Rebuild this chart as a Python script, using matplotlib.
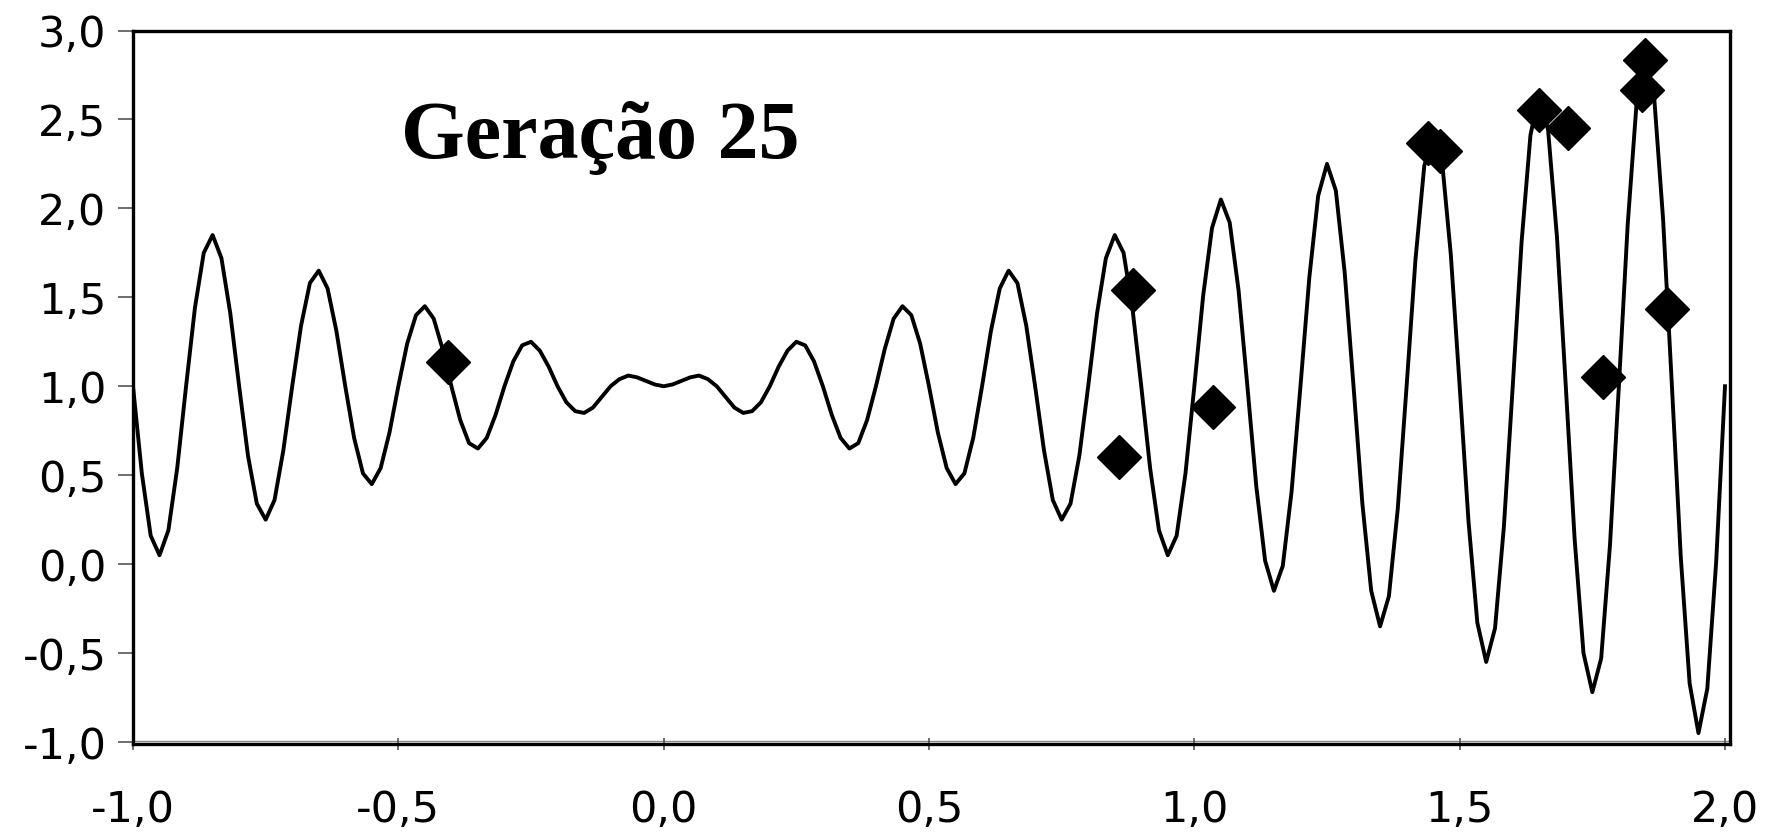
import matplotlib.pyplot as plt
from matplotlib.ticker import FuncFormatter

# curve, 12 samples per oscillation, x from -1,0 to 2,0
x_start, x_step = -1.0, 1 / 60
curve_y = [
    1.00, 0.51, 0.16, 0.05, 0.19, 0.54, 1.00, 1.44, 1.75, 1.85, 1.72, 1.41,
    1.00, 0.61, 0.34, 0.25, 0.36, 0.64, 1.00, 1.34, 1.58, 1.65, 1.55, 1.31,
    1.00, 0.71, 0.51, 0.45, 0.54, 0.74, 1.00, 1.24, 1.40, 1.45, 1.38, 1.21,
    1.00, 0.81, 0.68, 0.65, 0.71, 0.84, 1.00, 1.14, 1.23, 1.25, 1.20, 1.11,
    1.00, 0.91, 0.86, 0.85, 0.88, 0.94, 1.00, 1.04, 1.06, 1.05, 1.03, 1.01,
    1.00, 1.01, 1.03, 1.05, 1.06, 1.04, 1.00, 0.94, 0.88, 0.85, 0.86, 0.91,
    1.00, 1.11, 1.20, 1.25, 1.23, 1.14, 1.00, 0.84, 0.71, 0.65, 0.68, 0.81,
    1.00, 1.21, 1.38, 1.45, 1.40, 1.24, 1.00, 0.74, 0.54, 0.45, 0.51, 0.71,
    1.00, 1.31, 1.55, 1.65, 1.58, 1.34, 1.00, 0.64, 0.36, 0.25, 0.34, 0.61,
    1.00, 1.41, 1.72, 1.85, 1.75, 1.44, 1.00, 0.54, 0.19, 0.05, 0.16, 0.51,
    1.00, 1.51, 1.89, 2.05, 1.92, 1.54, 1.00, 0.44, 0.02, -0.15, -0.01, 0.41,
    1.00, 1.61, 2.07, 2.25, 2.10, 1.64, 1.00, 0.34, -0.15, -0.35, -0.18, 0.31,
    1.00, 1.71, 2.24, 2.40, 2.27, 1.74, 1.00, 0.24, -0.33, -0.55, -0.36, 0.21,
    1.00, 1.81, 2.41, 2.65, 2.44, 1.84, 1.00, 0.14, -0.50, -0.72, -0.53, 0.11,
    1.00, 1.91, 2.59, 2.68, 2.62, 1.94, 1.00, 0.04, -0.67, -0.95, -0.70, 0.01,
    1.00,
]
curve_x = [x_start + i * x_step for i in range(len(curve_y))]

# population of generation 25 (diamonds)
pop_x = [-0.407, 0.858, 0.884, 1.036, 1.440, 1.463, 1.649, 1.705, 1.771, 1.843, 1.850, 1.890]
pop_y = [1.135, 0.604, 1.541, 0.882, 2.366, 2.324, 2.553, 2.450, 1.054, 2.666, 2.834, 1.433]

title = "Geração 25"
x_ticks = [-1.0, -0.5, 0.0, 0.5, 1.0, 1.5, 2.0]
y_ticks = [-1.0, -0.5, 0.0, 0.5, 1.0, 1.5, 2.0, 2.5, 3.0]

W, H = 1771, 834
fig = plt.figure(figsize=(W / 100, H / 100), dpi=100)
ax = fig.add_axes([133 / W, 1 - 743.8 / H, (1730.3 - 133) / W, (743.8 - 30.5) / H])

ax.plot(curve_x, curve_y, color="black", lw=2.8, zorder=2)
ax.plot(pop_x, pop_y, linestyle="none", marker="D", color="black", ms=22, zorder=3)

ax.set_xlim(-1.0, 2.01)
ax.set_ylim(-1.01, 3.0)
ax.set_xticks(x_ticks)
ax.set_yticks(y_ticks)
comma = FuncFormatter(lambda v, p: f"{v:.1f}".replace(".", ","))
ax.xaxis.set_major_formatter(comma)
ax.yaxis.set_major_formatter(comma)

ax.tick_params(axis="y", direction="out", length=11, width=1.2, color="#555555",
               labelsize=31, pad=8)
ax.tick_params(axis="x", direction="inout", length=9, width=1.2, color="#555555",
               labelsize=31, pad=28)

for side in ["left", "top", "right", "bottom"]:
    ax.spines[side].set_linewidth(2.4)
    ax.spines[side].set_color("black")
ax.axhline(-0.995, color="#888888", lw=1.0, zorder=1)

ax.text(0.168, 0.821, title, transform=ax.transAxes, fontsize=59, fontweight="bold",
        family="Liberation Serif", va="baseline", ha="left")

fig.savefig("out.png", dpi=100)
